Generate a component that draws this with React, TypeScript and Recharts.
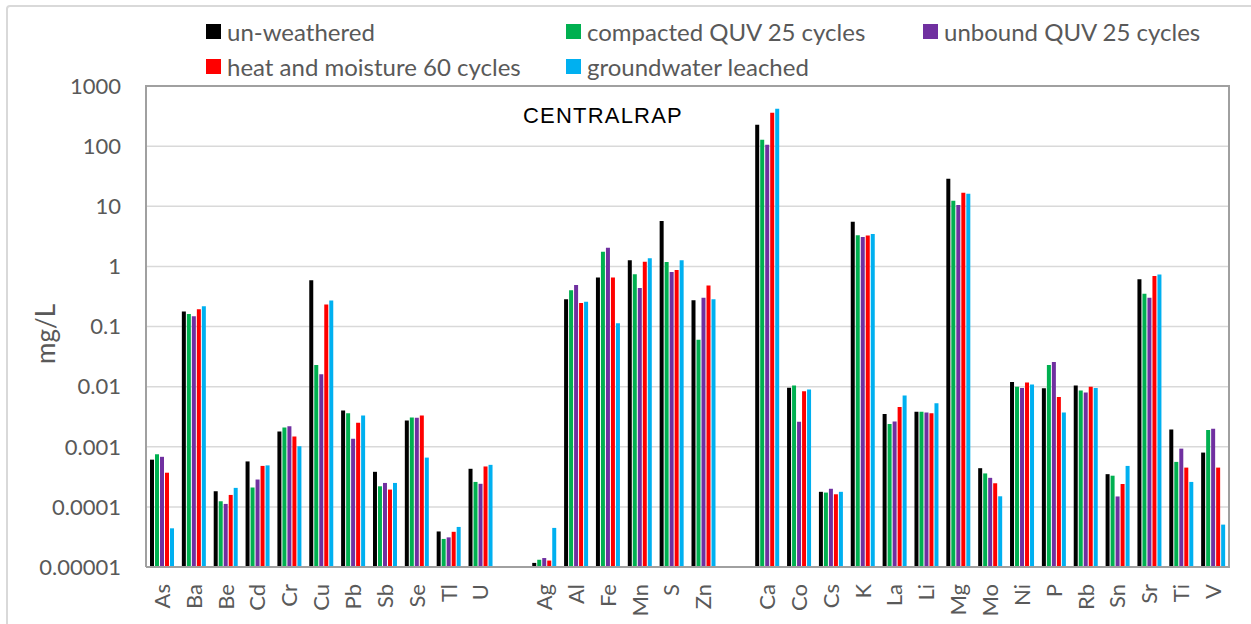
import React from 'react';
import { BarChart, Bar, XAxis, YAxis, CartesianGrid } from 'recharts';

// element order as in the figure, blanks are the gaps between groups
const elements = [
  'As', 'Ba', 'Be', 'Cd', 'Cr', 'Cu', 'Pb', 'Sb', 'Se', 'Tl', 'U', '',
  'Ag', 'Al', 'Fe', 'Mn', 'S', 'Zn', ' ',
  'Ca', 'Co', 'Cs', 'K', 'La', 'Li', 'Mg', 'Mo', 'Ni', 'P', 'Rb', 'Sn', 'Sr', 'Ti', 'V',
];

const unweathered = [
  0.00061, 0.178, 0.000182, 0.00057, 0.0018, 0.59, 0.004, 0.000383, 0.00274, 0.000039, 0.00043, null,
  0.0000117, 0.285, 0.65, 1.27, 5.7, 0.274, null,
  227, 0.0096, 0.000178, 5.5, 0.0035, 0.00383, 28.6, 0.00044, 0.0119, 0.0094, 0.0104, 0.00035, 0.61, 0.00194, 0.0008,
];
const compacted = [
  0.00075, 0.162, 0.000124, 0.00021, 0.0021, 0.0229, 0.0036, 0.00022, 0.00308, 0.0000293, 0.00026, null,
  0.0000132, 0.4, 1.75, 0.74, 1.18, 0.06, null,
  128, 0.0104, 0.000173, 3.29, 0.0024, 0.00383, 12.4, 0.00036, 0.01, 0.023, 0.0086, 0.00033, 0.35, 0.00056, 0.0019,
];
const unbound = [
  0.00068, 0.148, 0.000112, 0.000285, 0.0022, 0.016, 0.00136, 0.00025, 0.00304, 0.0000311, 0.000242, null,
  0.0000141, 0.49, 2.04, 0.435, 0.81, 0.3, null,
  105, 0.0026, 0.0002, 3.09, 0.00264, 0.0037, 10.5, 0.000304, 0.0095, 0.0257, 0.008, 0.000149, 0.3, 0.00093, 0.002,
];
const heatMoisture = [
  0.00037, 0.194, 0.000158, 0.00048, 0.00148, 0.233, 0.0025, 0.000194, 0.0033, 0.0000385, 0.00047, null,
  0.0000128, 0.247, 0.656, 1.19, 0.87, 0.48, null,
  360, 0.0084, 0.000162, 3.25, 0.0046, 0.0036, 16.7, 0.000247, 0.0117, 0.0067, 0.01, 0.00024, 0.69, 0.00045, 0.00045,
];
const groundwater = [
  0.000044, 0.217, 0.000207, 0.00049, 0.00102, 0.27, 0.0033, 0.00025, 0.00066, 0.0000464, 0.0005, null,
  0.0000447, 0.257, 0.113, 1.37, 1.27, 0.285, null,
  420, 0.009, 0.000178, 3.47, 0.0071, 0.0053, 16.1, 0.00015, 0.0108, 0.0037, 0.0095, 0.00048, 0.735, 0.00026, 0.0000507,
];

const yTicks = [0.00001, 0.0001, 0.001, 0.01, 0.1, 1, 10, 100, 1000];
const yTickLabels = ['0.00001', '0.0001', '0.001', '0.01', '0.1', '1', '10', '100', '1000'];

const series = [
  { key: 'unweathered', name: 'un-weathered', color: '#000000', values: unweathered },
  { key: 'compacted', name: 'compacted QUV 25 cycles', color: '#00b050', values: compacted },
  { key: 'unbound', name: 'unbound QUV 25 cycles', color: '#7030a0', values: unbound },
  { key: 'heat', name: 'heat and moisture 60 cycles', color: '#ff0000', values: heatMoisture },
  { key: 'groundwater', name: 'groundwater leached', color: '#00b0f0', values: groundwater },
];

const data = elements.map((name, i) => {
  const row: any = { name };
  series.forEach(s => { row[s.key] = s.values[i]; });
  return row;
});

const FONT = 'Lato, "Open Sans", sans-serif';
const GREY = '#595959';

const XTick = ({ x, y, payload }: any) => {
  const ty = y + 17;
  return (
    <text
      x={x}
      y={ty}
      transform={`rotate(-90 ${x} ${ty})`}
      textAnchor="end"
      dy="0.36em"
      fill={GREY}
      fontSize={22}
      fontFamily={FONT}
    >
      {payload.value}
    </text>
  );
};

const legendCols = [206, 566, 923];

export default function App() {
  return (
    <div style={{ position: 'absolute', left: 0, top: 0, width: 1251, height: 624, background: '#fff', overflow: 'hidden' }}>
      {/* outer chart-area frame */}
      <div style={{ position: 'absolute', left: 6, top: 5, width: 1300, height: 700, border: '2px solid #d9d9d9', borderRadius: 4 }} />

      {/* legend, three columns, filled row by row */}
      {series.map((s, i) => (
        <div
          key={s.key}
          style={{
            position: 'absolute',
            left: legendCols[i % 3],
            top: i < 3 ? 18 : 53,
            height: 27,
            display: 'flex',
            alignItems: 'center',
            fontFamily: FONT,
            fontSize: 24,
            color: GREY,
            whiteSpace: 'nowrap',
          }}
        >
          <span style={{ display: 'inline-block', width: 15, height: 15, background: s.color, marginRight: 6 }} />
          {s.name}
        </div>
      ))}

      <div
        style={{
          position: 'absolute',
          left: 45,
          top: 334,
          transform: 'translate(-50%, -50%) rotate(-90deg)',
          fontFamily: FONT,
          fontSize: 26,
          color: GREY,
          whiteSpace: 'nowrap',
        }}
      >
        mg/L
      </div>

      <div
        style={{
          position: 'absolute',
          left: 523,
          top: 105,
          lineHeight: '22px',
          fontFamily: '"Liberation Sans", Arial, sans-serif',
          fontSize: 22,
          letterSpacing: 1.2,
          color: '#000',
          whiteSpace: 'nowrap',
        }}
      >
        CENTRALRAP
      </div>

      <div style={{ position: 'absolute', left: 0, top: 0 }}>
        <BarChart
          width={1251}
          height={624}
          data={data}
          margin={{ top: 86, right: 22, bottom: 0, left: 0 }}
          barSize={4}
          barGap={1}
        >
          <CartesianGrid vertical={false} stroke="#d9d9d9" strokeWidth={1.5} />
          <XAxis
            dataKey="name"
            height={57}
            interval={0}
            tickLine={false}
            tickSize={0}
            tickMargin={0}
            axisLine={{ stroke: '#a0a0a0', strokeWidth: 2 }}
            tick={<XTick />}
          />
          <YAxis
            type="number"
            scale="log"
            domain={[0.00001, 1000]}
            allowDataOverflow
            ticks={yTicks}
            interval={0}
            width={146}
            tickLine={false}
            tickSize={0}
            tickMargin={25}
            axisLine={{ stroke: '#a0a0a0', strokeWidth: 2 }}
            tickFormatter={(v: number) => yTickLabels[yTicks.indexOf(v)] ?? String(v)}
            tick={{ fill: GREY, fontSize: 22, fontFamily: FONT }}
          />
          {series.map(s => (
            <Bar key={s.key} dataKey={s.key} name={s.name} fill={s.color} isAnimationActive={false} />
          ))}
        </BarChart>
      </div>

      {/* plot frame: top and right edges */}
      <div style={{ position: 'absolute', left: 145, top: 85, width: 1085, height: 483, borderTop: '2px solid #a0a0a0', borderRight: '2px solid #a0a0a0', boxSizing: 'border-box' }} />
    </div>
  );
}
